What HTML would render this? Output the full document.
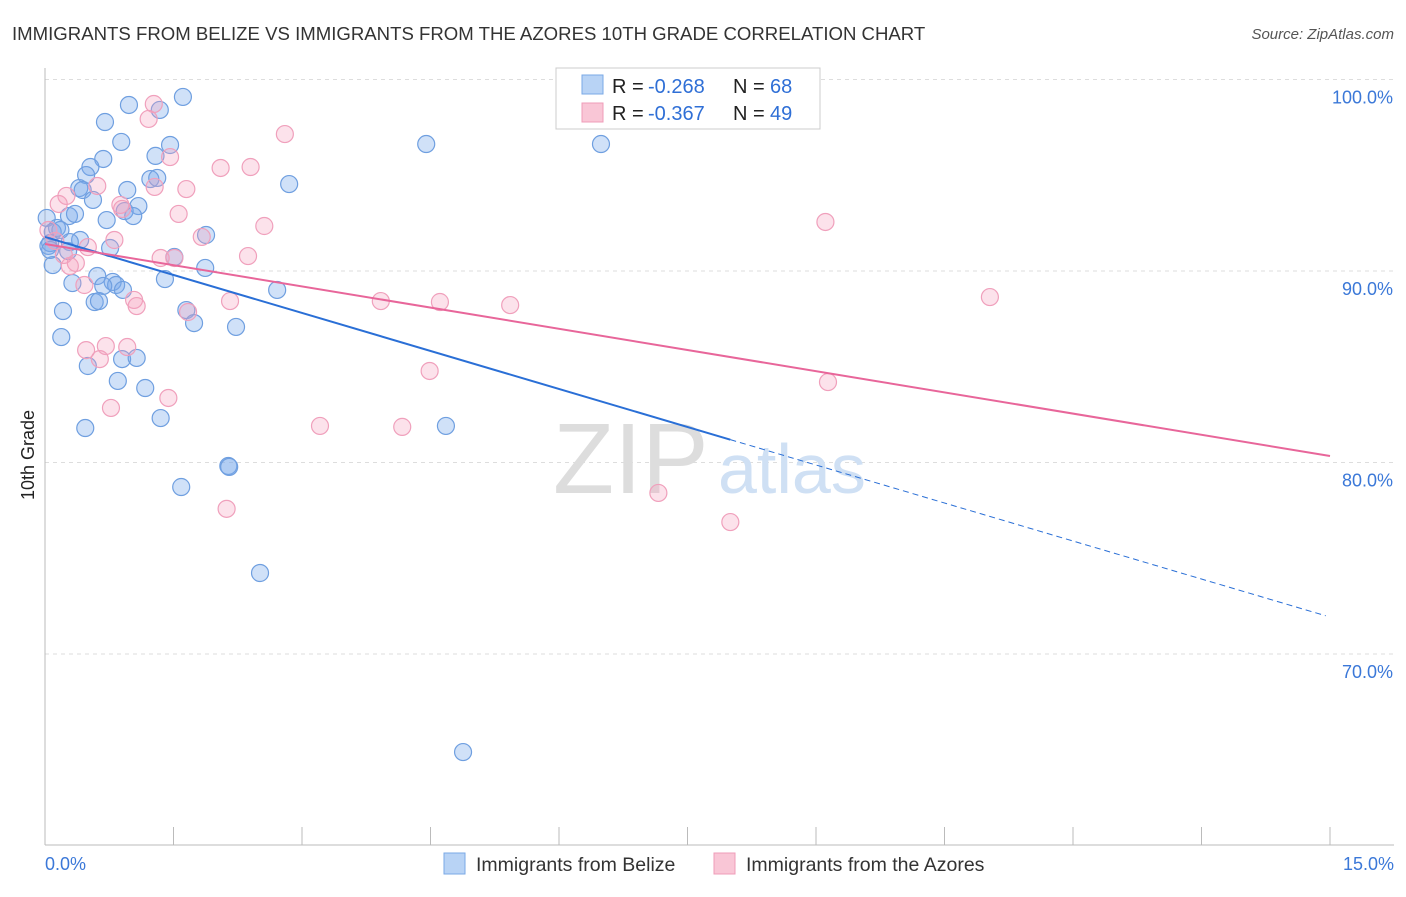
<!DOCTYPE html>
<html><head><meta charset="utf-8">
<style>
body{margin:0;background:#fff;font-family:"Liberation Sans",sans-serif;}
svg text{font-family:"Liberation Sans",sans-serif;}
</style></head>
<body>
<svg id="chart" width="1406" height="892" xmlns="http://www.w3.org/2000/svg">
<text x="12" y="40" font-size="18.6" fill="#333">IMMIGRANTS FROM BELIZE VS IMMIGRANTS FROM THE AZORES 10TH GRADE CORRELATION CHART</text>
<text x="1394" y="39" font-size="15" fill="#555" font-style="italic" text-anchor="end">Source: ZipAtlas.com</text>
<text x="34" y="455" font-size="18" fill="#222" transform="rotate(-90 34 455)" text-anchor="middle">10th Grade</text>
<g id="grid"></g>
<text x="553" y="493" font-size="100" fill="#ddd" font-family="Liberation Serif,serif">ZIP</text>
<text x="718" y="493" font-size="70" fill="#cfe0f4">atlas</text>
<g id="pts"></g>
<g id="trend"></g>
<g>
<rect x="556" y="68" width="264" height="61" fill="#fff" stroke="#ccc"/>
<rect x="582" y="75" width="21" height="19" fill="#b8d3f5" stroke="#7aa8e6"/>
<rect x="582" y="103" width="21" height="19" fill="#f9c6d6" stroke="#ef9cb8"/>
<text x="612" y="93" font-size="20" fill="#222">R =</text>
<text x="648" y="93" font-size="20" fill="#2f6fd6">-0.268</text>
<text x="733" y="93" font-size="20" fill="#222">N =</text>
<text x="770" y="93" font-size="20" fill="#2f6fd6">68</text>
<text x="612" y="120" font-size="20" fill="#222">R =</text>
<text x="648" y="120" font-size="20" fill="#2f6fd6">-0.367</text>
<text x="733" y="120" font-size="20" fill="#222">N =</text>
<text x="770" y="120" font-size="20" fill="#2f6fd6">49</text>
</g>
<g>
<rect x="444" y="853" width="21" height="21" fill="#b8d3f5" stroke="#7aa8e6"/>
<text x="476" y="871" font-size="19.5" fill="#333">Immigrants from Belize</text>
<rect x="714" y="853" width="21" height="21" fill="#f9c6d6" stroke="#ef9cb8"/>
<text x="746" y="871" font-size="19.5" fill="#333">Immigrants from the Azores</text>
</g>
</svg>
<script>
const blueX=[0.98,1.61,1.34,0.70,0.89,1.46,1.29,0.68,0.53,0.48,1.23,1.31,0.40,0.44,0.96,0.56,1.09,0.28,0.35,0.93,1.03,0.72,0.02,0.14,0.09,0.18,0.41,0.29,0.06,0.04,0.76,0.27,0.09,0.61,0.79,0.83,0.32,0.68,0.91,0.58,0.63,0.21,1.65,1.74,2.23,0.19,0.90,1.07,0.50,0.85,1.17,1.35,0.47,1.59,2.14,2.15,2.51,4.88,2.85,4.45,6.49,4.68,1.88,1.51,1.87,2.71,1.40,0.06];
const blueY=[98.67,99.09,98.41,97.78,96.74,96.58,96.01,95.85,95.43,95.01,94.80,94.86,94.33,94.23,94.23,93.71,93.39,92.87,92.98,93.13,92.87,92.66,92.77,92.25,92.04,92.14,91.62,91.51,91.46,91.31,91.20,91.04,90.31,89.74,89.43,89.27,89.37,89.22,89.01,88.38,88.43,87.91,87.96,87.28,87.08,86.55,85.40,85.46,85.04,84.26,83.89,82.32,81.80,78.72,79.82,79.77,74.23,64.88,94.54,96.63,96.63,81.91,91.88,90.73,90.16,89.01,89.58,91.10];
const pinkX=[1.27,1.21,2.80,1.46,2.05,2.40,0.61,1.65,1.28,0.25,0.16,0.88,0.90,1.56,2.56,9.11,1.83,0.81,0.50,0.04,0.12,0.22,0.36,2.37,1.35,1.51,0.29,0.46,1.04,1.07,2.16,3.92,4.61,5.43,11.03,1.67,0.48,0.64,0.71,0.96,9.14,4.49,1.44,0.77,3.21,4.17,7.16,2.12,8.00];
const pinkY=[98.72,97.94,97.15,95.95,95.38,95.43,94.44,94.28,94.39,93.92,93.50,93.45,93.24,92.98,92.35,92.56,91.78,91.62,91.25,92.14,91.57,90.84,90.42,90.78,90.68,90.68,90.26,89.27,88.49,88.17,88.43,88.43,88.38,88.22,88.64,87.86,85.87,85.40,86.08,86.03,84.20,84.78,83.37,82.85,81.91,81.86,78.41,77.58,76.89];
const blueTrend=[91.78,71.93];const blueSolidEnd=8.0;
const pinkTrend=[91.41,80.34];
const yTicks=[100,90,80,70];
const yTickLabels=["100.0%","90.0%","80.0%","70.0%"];
const xTicks=[0,1.5,3,4.5,6,7.5,9,10.5,12,13.5,15];
const xLabels=["0.0%","15.0%"];
const NS="http://www.w3.org/2000/svg";
const sx=v=>45+v*1285/15;
const sy=v=>79.5+(100-v)*19.15;
function mk(t,a,p){const e=document.createElementNS(NS,t);for(const k in a)e.setAttribute(k,a[k]);p.appendChild(e);return e;}
const grid=document.getElementById('grid');
yTicks.forEach((t,i)=>{
 const l=mk('line',{x1:45,x2:1394,y1:sy(t),y2:sy(t),stroke:'#ddd','stroke-dasharray':'4,4'},grid);
 
 
 const tx=mk('text',{x:1393,y:sy(t)+24,'font-size':18,fill:'#3b78d8','text-anchor':'end'},grid);
 tx.textContent=yTickLabels[i];
 
 
});
const ax=mk('line',{x1:45,x2:45,y1:68,y2:845,stroke:'#bbb'},grid);


const bx=mk('line',{x1:45,x2:1394,y1:845,y2:845,stroke:'#bbb'},grid);


xTicks.forEach(t=>{
 const l=mk('line',{x1:sx(t),x2:sx(t),y1:827,y2:845,stroke:'#bbb'},grid);
 
 
});
const xl0=mk('text',{x:45,y:870,'font-size':18,fill:'#3b78d8'},grid);xl0.textContent=xLabels[0];


const xl1=mk('text',{x:1394,y:870,'font-size':18,fill:'#3b78d8','text-anchor':'end'},grid);xl1.textContent=xLabels[1];


const pts=document.getElementById('pts');
blueX.forEach((x,i)=>{
 const c=mk('circle',{cx:sx(x),cy:sy(blueY[i]),r:8.5,fill:'rgba(120,170,235,0.35)',stroke:'#6f9fe0','stroke-width':1.2},pts);
 
 
});
pinkX.forEach((x,i)=>{
 const c=mk('circle',{cx:sx(x),cy:sy(pinkY[i]),r:8.5,fill:'rgba(245,160,190,0.3)',stroke:'#f0a0bc','stroke-width':1.2},pts);
 
 
});
const tr=document.getElementById('trend');
const bAt=x=>blueTrend[0]+(blueTrend[1]-blueTrend[0])*x/15;
const b1=mk('line',{x1:sx(0),y1:sy(blueTrend[0]),x2:sx(blueSolidEnd),y2:sy(bAt(blueSolidEnd)),stroke:'#2a6fd6','stroke-width':2},tr);


const b2=mk('line',{x1:sx(blueSolidEnd),y1:sy(bAt(blueSolidEnd)),x2:sx(14.95),y2:sy(bAt(14.95)),stroke:'#2a6fd6','stroke-width':1,'stroke-dasharray':'6,4'},tr);


const p1=mk('line',{x1:sx(0),y1:sy(pinkTrend[0]),x2:sx(15),y2:sy(pinkTrend[1]),stroke:'#e8669a','stroke-width':2},tr);


</script>
</body></html>
